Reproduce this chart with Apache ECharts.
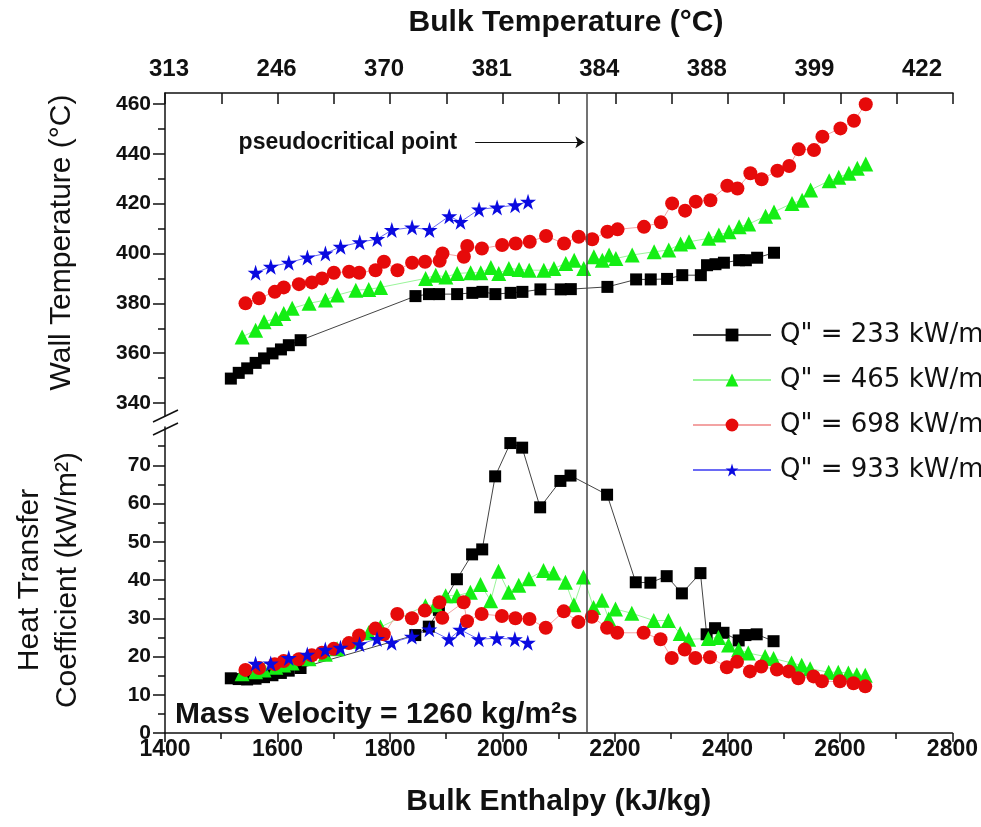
<!DOCTYPE html>
<html>
<head>
<meta charset="utf-8">
<title>Wall temperature and heat transfer coefficient</title>
<script src="https://cdn.jsdelivr.net/npm/echarts@6.0.0/dist/echarts.min.js"></script>
<style>
  html, body { margin: 0; padding: 0; background: #fff; }
  #myChart { width: 981px; height: 827px; }
</style>
</head>
<body>
<div id="myChart"></div>
<script>
// top axis labels (bulk temperature, degC)
var tempLabels = ['313', '246', '370', '381', '384', '388', '399', '422'];
var htcTicks = [0, 10, 20, 30, 40, 50, 60, 70];
var seriesNames = ['Q" = 233 kW/m²', 'Q" = 465 kW/m²', 'Q" = 698 kW/m²', 'Q" = 933 kW/m²'];
var pcEnthalpy = 2150; // pseudocritical point

// Q" = 233
var enth233 = [1517, 1531, 1546, 1561, 1576, 1591, 1606, 1620, 1641, 1845, 1869, 1887, 1919, 1946, 1964, 1987, 2014, 2035, 2067, 2103, 2121, 2186, 2237, 2263, 2292, 2319, 2352, 2363, 2378, 2393, 2420, 2432, 2452, 2482];
var twall233 = [349.8, 352.1, 353.9, 356.1, 357.9, 359.9, 361.5, 363.2, 365.2, 382.9, 383.7, 383.7, 383.7, 384.2, 384.6, 383.7, 384.2, 384.6, 385.6, 385.6, 385.7, 386.6, 389.6, 389.6, 389.8, 391.3, 391.3, 395.3, 395.7, 396.3, 397.3, 397.3, 398.3, 400.3];
var htc233 = [14.3, 14.1, 14.0, 14.2, 14.6, 15.1, 15.7, 16.3, 17.0, 25.6, 27.8, 32.2, 40.2, 46.7, 48.0, 67.1, 75.8, 74.6, 59.0, 65.9, 67.3, 62.3, 39.4, 39.3, 41.0, 36.5, 41.8, 25.8, 27.4, 26.2, 24.2, 25.6, 25.8, 24.0];

// Q" = 465
var enth465 = [1537, 1561, 1576, 1597, 1611, 1626, 1656, 1685, 1706, 1739, 1762, 1783, 1863, 1881, 1899, 1919, 1943, 1961, 1979, 1993, 2011, 2029, 2047, 2073, 2091, 2112, 2127, 2144, 2162, 2177, 2189, 2201, 2230, 2269, 2295, 2316, 2331, 2366, 2384, 2402, 2420, 2437, 2467, 2482, 2514, 2532, 2547, 2580, 2597, 2615, 2630, 2645];
var twall465 = [366.5, 369.2, 372.6, 373.9, 375.9, 378.0, 380.0, 381.3, 383.3, 385.3, 385.6, 386.4, 390.0, 391.3, 390.6, 392.0, 392.3, 392.3, 394.4, 392.0, 394.0, 393.6, 393.3, 393.3, 394.0, 396.0, 397.3, 394.0, 398.7, 397.3, 399.4, 398.0, 399.4, 400.7, 401.4, 403.8, 404.7, 406.1, 407.4, 408.7, 410.7, 411.8, 415.0, 416.7, 420.1, 421.4, 425.5, 429.2, 430.6, 432.2, 434.2, 435.9];
var htc465 = [15.5, 16.0, 16.5, 17.2, 17.8, 18.3, 19.4, 20.6, 22.0, 24.0, 26.2, 27.7, 33.3, 33.5, 35.9, 35.9, 36.8, 38.8, 34.6, 42.3, 36.8, 38.6, 40.3, 42.5, 41.8, 39.4, 33.5, 40.8, 32.8, 34.7, 29.8, 32.4, 31.3, 29.4, 29.4, 26.0, 24.5, 24.7, 25.0, 23.0, 21.8, 20.9, 20.0, 19.5, 18.3, 17.7, 16.8, 15.9, 15.9, 15.7, 15.2, 15.1];

// Q" = 698
var enth698 = [1543, 1567, 1595, 1611, 1638, 1661, 1679, 1700, 1727, 1745, 1774, 1789, 1813, 1839, 1862, 1888, 1893, 1931, 1937, 1963, 1999, 2023, 2048, 2077, 2109, 2135, 2159, 2186, 2204, 2251, 2281, 2301, 2324, 2343, 2369, 2399, 2417, 2440, 2460, 2488, 2509, 2526, 2553, 2568, 2600, 2624, 2645];
var twall698 = [380.0, 382.0, 384.6, 386.4, 387.7, 388.4, 390.0, 392.3, 392.7, 392.3, 393.3, 396.7, 393.3, 396.3, 396.7, 397.1, 400.0, 398.7, 403.0, 402.0, 403.4, 404.0, 404.7, 407.0, 404.0, 406.7, 405.7, 408.7, 409.7, 410.7, 412.5, 420.1, 417.2, 420.8, 421.4, 427.2, 426.1, 432.2, 429.8, 433.2, 435.1, 441.8, 441.5, 446.9, 450.2, 453.3, 459.9];
var htc698 = [16.5, 17.0, 18.0, 18.8, 19.3, 20.3, 21.0, 22.0, 23.5, 25.5, 27.3, 25.8, 31.1, 30.0, 32.0, 34.2, 30.1, 34.2, 29.2, 31.1, 30.6, 30.0, 29.8, 27.5, 31.8, 29.0, 30.4, 27.5, 26.2, 26.2, 24.5, 19.6, 21.8, 19.6, 19.8, 17.2, 18.6, 16.1, 17.4, 16.6, 16.1, 14.3, 14.8, 13.5, 13.5, 13.0, 12.2];

// Q" = 933
var enth933 = [1561, 1588, 1620, 1653, 1685, 1712, 1746, 1777, 1803, 1839, 1870, 1905, 1925, 1958, 1990, 2022, 2045];
var twall933 = [392.3, 394.7, 396.3, 398.4, 400.0, 402.7, 404.5, 405.8, 409.4, 410.5, 409.4, 415.0, 412.7, 417.7, 418.5, 419.4, 420.8];
var htc933 = [18.1, 18.2, 19.6, 20.5, 21.8, 22.3, 23.2, 24.6, 23.6, 25.2, 27.1, 24.5, 27.0, 24.5, 24.8, 24.5, 23.6];

var SANS = "'Liberation Sans', Arial, sans-serif";
var STAR = 'path://M50,2 L61,36 L97,36 L68,57 L79,92 L50,71 L21,92 L32,57 L3,36 L39,36 Z';

function zip(xs, ys) {
  var out = [];
  for (var i = 0; i < xs.length; i++) out.push([xs[i], ys[i]]);
  return out;
}

function makeSeries(name, xs, ys, panel, symbol, size, color, lineColor) {
  var idx = panel === 'top' ? 0 : 2;
  return {
    name: name,
    type: 'line',
    xAxisIndex: idx,
    yAxisIndex: idx,
    data: zip(xs, ys),
    symbol: symbol,
    symbolSize: size,
    showAllSymbol: true,
    itemStyle: { color: color },
    lineStyle: { color: lineColor, width: 1 },
    emphasis: { disabled: true }
  };
}

var axisLineStyle = { color: '#111', width: 1.5 };
var tickStyle = { color: '#111', width: 1.5 };

var myChart = echarts.init(document.getElementById('myChart'), null, { renderer: 'canvas' });

myChart.setOption({
  animation: false,
  backgroundColor: '#fff',
  grid: [
    { left: 165, right: 28, top: 104, height: 299 },   // wall temperature data
    { left: 165, right: 28, top: 93, height: 323 },    // frame of upper panel
    { left: 165, right: 28, top: 427, height: 306 },   // heat transfer coefficient
    { left: 169, width: 753, top: 93, height: 323 },   // bulk temperature labels
    { left: 165, right: 28, top: 93, height: 640 }     // full height, for the vertical line
  ],
  xAxis: [
    { gridIndex: 0, type: 'value', min: 1400, max: 2800, show: false },
    {
      gridIndex: 1, type: 'value', position: 'top', min: 1400, max: 2800, interval: 100,
      name: 'Bulk Temperature (°C)', nameLocation: 'middle', nameGap: 55,
      nameTextStyle: { fontFamily: SANS, fontWeight: 'bold', fontSize: 30, color: '#111', padding: [0, 0, 0, 14] },
      axisLine: { onZero: false, lineStyle: axisLineStyle },
      axisTick: { inside: true, length: 11, lineStyle: tickStyle },
      axisLabel: { show: false },
      splitLine: { show: false }
    },
    {
      gridIndex: 2, type: 'value', min: 1400, max: 2800, interval: 200,
      name: 'Bulk Enthalpy (kJ/kg)', nameLocation: 'middle', nameGap: 54,
      nameTextStyle: { fontFamily: SANS, fontWeight: 'bold', fontSize: 30, color: '#111' },
      axisLine: { onZero: false, lineStyle: axisLineStyle },
      axisTick: { length: 9, lineStyle: tickStyle },
      minorTick: { show: true, splitNumber: 2, length: 6, lineStyle: tickStyle },
      axisLabel: {
        margin: 5, fontFamily: SANS, fontWeight: 'bold', fontSize: 23, color: '#111',
        formatter: function (v) { return String(v); }
      },
      splitLine: { show: false }
    },
    {
      gridIndex: 3, type: 'value', position: 'top', min: 0, max: 7, interval: 1,
      axisLine: { show: false, onZero: false },
      axisTick: { show: false },
      axisLabel: {
        margin: 12, fontFamily: SANS, fontWeight: 'bold', fontSize: 24, color: '#111',
        formatter: function (v) { return tempLabels[v]; }
      },
      splitLine: { show: false }
    },
    { gridIndex: 4, type: 'value', min: 1400, max: 2800, show: false }
  ],
  yAxis: [
    {
      gridIndex: 0, type: 'value', min: 340, max: 460, interval: 20,
      name: 'Wall Temperature (°C)', nameLocation: 'middle', nameRotate: 90, nameGap: 88,
      nameTextStyle: { fontFamily: SANS, fontSize: 30, color: '#111', padding: [0, 0, 0, 22] },
      axisLine: { show: false },
      axisTick: { length: 12, lineStyle: tickStyle },
      minorTick: { show: true, splitNumber: 2, length: 7, lineStyle: tickStyle },
      axisLabel: { margin: 14, fontFamily: SANS, fontWeight: 'bold', fontSize: 21, color: '#111' },
      splitLine: { show: false }
    },
    {
      gridIndex: 1, type: 'value', min: 0, max: 1,
      axisLine: { show: true, onZero: false, lineStyle: axisLineStyle },
      axisTick: { show: false }, axisLabel: { show: false }, splitLine: { show: false }
    },
    {
      gridIndex: 2, type: 'value', min: 0, max: 80, interval: 10,
      name: 'Heat Transfer\nCoefficient (kW/m²)', nameLocation: 'middle', nameRotate: 90, nameGap: 78,
      nameTextStyle: { fontFamily: SANS, fontSize: 30, lineHeight: 38, color: '#111' },
      axisLine: { onZero: false, lineStyle: axisLineStyle },
      axisTick: { length: 12, customValues: htcTicks, lineStyle: tickStyle },
      minorTick: { show: true, splitNumber: 2, length: 7, lineStyle: tickStyle },
      axisLabel: { margin: 14, customValues: htcTicks, fontFamily: SANS, fontWeight: 'bold', fontSize: 21, color: '#111' },
      splitLine: { show: false }
    },
    { gridIndex: 3, type: 'value', min: 0, max: 1, show: false },
    { gridIndex: 4, type: 'value', min: 0, max: 1, show: false }
  ],
  legend: {
    orient: 'vertical',
    left: 692,
    top: 322,
    padding: 0,
    itemWidth: 78,
    itemHeight: 16,
    itemGap: 19,
    data: seriesNames,
    textStyle: { fontFamily: "'DejaVu Sans', sans-serif", fontSize: 26, color: '#111', padding: [0, 0, 0, 4] }
  },
  graphic: [
    // axis break marks
    { type: 'line', shape: { x1: 153, y1: 422, x2: 178, y2: 410 }, style: { stroke: '#111', lineWidth: 1.5 } },
    { type: 'line', shape: { x1: 153, y1: 435, x2: 178, y2: 423 }, style: { stroke: '#111', lineWidth: 1.5 } },
    {
      type: 'text', left: 175, top: 700,
      style: { text: 'Mass Velocity = 1260 kg/m²s', font: 'bold 30px ' + SANS, fill: '#111' }
    }
  ],
  series: [
    makeSeries(seriesNames[0], enth233, twall233, 'top', 'rect', 12, '#000', '#444'),
    makeSeries(seriesNames[0], enth233, htc233, 'bottom', 'rect', 12, '#000', '#444'),
    makeSeries(seriesNames[1], enth465, twall465, 'top', 'triangle', 15, '#14ee14', '#9af59a'),
    makeSeries(seriesNames[1], enth465, htc465, 'bottom', 'triangle', 15, '#14ee14', '#9af59a'),
    makeSeries(seriesNames[2], enth698, twall698, 'top', 'circle', 14, '#e60a0a', '#f3a3a3'),
    makeSeries(seriesNames[2], enth698, htc698, 'bottom', 'circle', 14, '#e60a0a', '#f3a3a3'),
    makeSeries(seriesNames[3], enth933, twall933, 'top', STAR, 16, '#0a0ae0', '#6a6af5'),
    makeSeries(seriesNames[3], enth933, htc933, 'bottom', STAR, 16, '#0a0ae0', '#6a6af5'),
    {
      // pseudocritical vertical line across both panels
      type: 'line', xAxisIndex: 4, yAxisIndex: 4, data: [],
      markLine: {
        silent: true, symbol: ['none', 'none'], label: { show: false },
        lineStyle: { color: '#444', width: 1.5, type: 'solid' },
        data: [{ xAxis: pcEnthalpy }]
      }
    },
    {
      // arrow pointing at the pseudocritical line
      type: 'line', xAxisIndex: 0, yAxisIndex: 0, data: [],
      markLine: {
        silent: true, symbol: ['none', 'arrow'], symbolSize: 9,
        lineStyle: { color: '#111', width: 1.2, type: 'solid' },
        label: {
          show: true, position: 'start', distance: 18,
          formatter: 'pseudocritical point',
          fontFamily: SANS, fontWeight: 'bold', fontSize: 23, color: '#111'
        },
        data: [[{ coord: [1951, 444.6] }, { coord: [pcEnthalpy - 5, 444.6] }]]
      }
    }
  ]
});
</script>
</body>
</html>
